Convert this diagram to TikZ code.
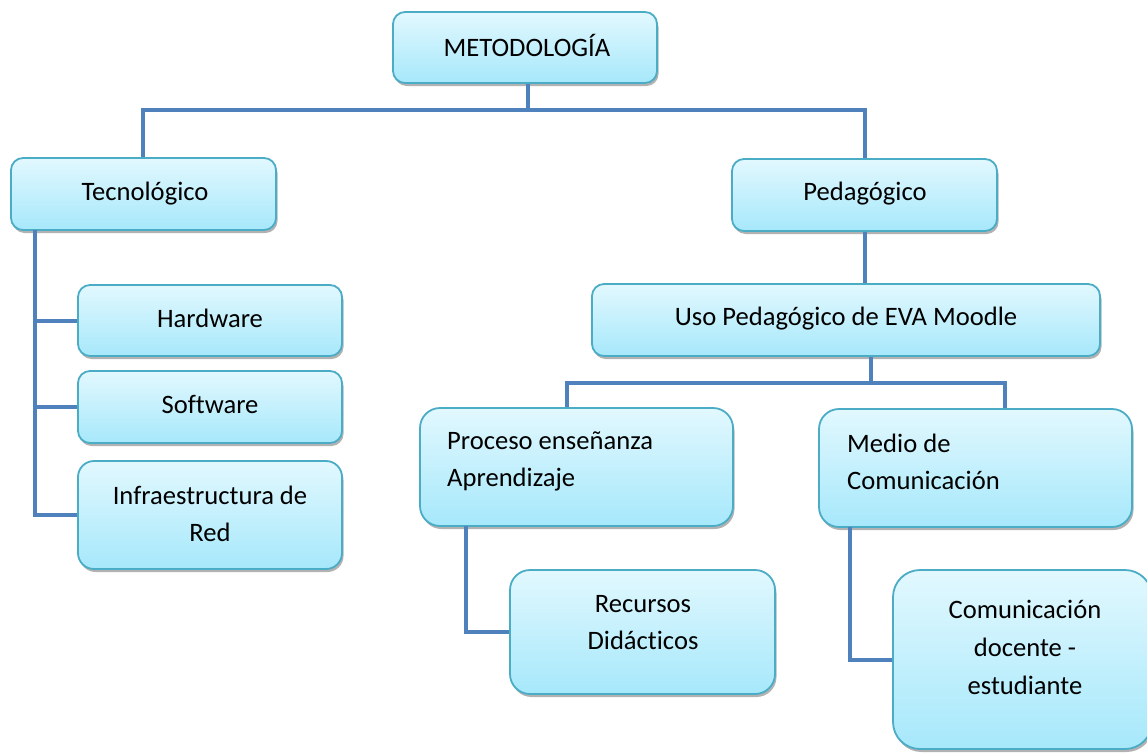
\documentclass[tikz,border=0pt]{standalone}
\usepackage{fontspec}
\setmainfont{Carlito}[Ligatures=CommonOff]
\usetikzlibrary{shadows}
\definecolor{boxtop}{HTML}{E2F8FE}
\definecolor{boxbot}{HTML}{A6E8FB}
\definecolor{boxline}{HTML}{4BACC6}
\definecolor{conn}{HTML}{4F81BD}
\begin{document}
\begin{tikzpicture}[x=1pt,y=-1pt,
  box/.style={draw=boxline, line width=1.8pt, rounded corners=12pt,
    top color=boxtop, bottom color=boxbot, inner sep=0pt,
    drop shadow={shadow xshift=1.5pt, shadow yshift=-3pt, opacity=0.3, fill=black}},
  txt/.style={font=\fontsize{26.6}{37}\selectfont, inner sep=0pt, text=black},
  link/.style={draw=conn, line width=4pt}]
\useasboundingbox (0,0) rectangle (1147,752);
% junction coordinates
\coordinate (j1) at (528,110);
\coordinate (tl) at (35,230);
\coordinate (j2) at (871,383);
\coordinate (pl) at (567,383);
\coordinate (mr) at (1005,383);
\coordinate (pd) at (466,526);
\coordinate (md) at (850,527);
% boxes
\node[box, minimum width=264pt, minimum height=71pt] (met) at (525,47.5) {};
\node[box, minimum width=265pt, minimum height=72pt] (tec) at (143.5,194) {};
\node[box, minimum width=265pt, minimum height=72pt] (ped) at (864.5,195) {};
\node[box, minimum width=264pt, minimum height=71pt] (hw) at (210,320.5) {};
\node[box, minimum width=264pt, minimum height=72pt] (sw) at (210,407) {};
\node[box, minimum width=264pt, minimum height=108pt, rounded corners=16pt] (inf) at (210,515) {};
\node[box, minimum width=508pt, minimum height=72pt] (uso) at (846,320) {};
\node[box, minimum width=313pt, minimum height=118pt, rounded corners=20pt] (pro) at (576.5,467) {};
\node[box, minimum width=313pt, minimum height=118pt, rounded corners=20pt] (med) at (975.5,468) {};
\node[box, minimum width=265pt, minimum height=124pt, rounded corners=20pt] (rec) at (642.5,632) {};
\node[box, minimum width=259pt, minimum height=179pt, rounded corners=27pt] (com) at (1022.5,659.5) {};
% connectors
\draw[link] (met.south -| j1) -- (j1);
\draw[link] (tec.north -| 143,0) |- (j1) -| (ped.north -| 865,0);
\draw[link] (tl) |- (hw.west);
\draw[link] (tl) |- (sw.west);
\draw[link] (tl) |- (inf.west);
\draw[link] (ped.south -| 865,0) -- (uso.north -| 865,0);
\draw[link] (uso.south -| j2) -- (j2);
\draw[link] (pl |- pro.north) -- (pl) -- (mr) -- (mr |- med.north);
\draw[link] (pd) |- (rec.west);
\draw[link] (md) |- (com.west);
% texts
\node[txt] (tmet) at (527,45) {METODOLOGÍA};
\node[txt] (ttec) at (145,194) {Tecnológico};
\node[txt] (tped) at (865,194) {Pedagógico};
\node[txt] (thw) at (210,318) {Hardware};
\node[txt] (tsw) at (210,404) {Software};
\node[txt, align=center] (tinf) at (210,514) {Infraestructura de\\Red};
\node[txt] (tuso) at (846,319) {Uso Pedagógico de EVA Moodle};
\node[txt, align=left, anchor=west] (tpro) at (447,461) {Proceso enseñanza\\Aprendizaje};
\node[txt, align=left, anchor=west] (tmed) at (847,462) {Medio de\\Comunicación};
\node[txt, align=center] (trec) at (643,623) {Recursos\\Didácticos};
\node[txt, align=center, font=\fontsize{26.6}{38}\selectfont] (tcom) at (1025,647) {Comunicación\\docente -\\estudiante};
\end{tikzpicture}
\end{document}
